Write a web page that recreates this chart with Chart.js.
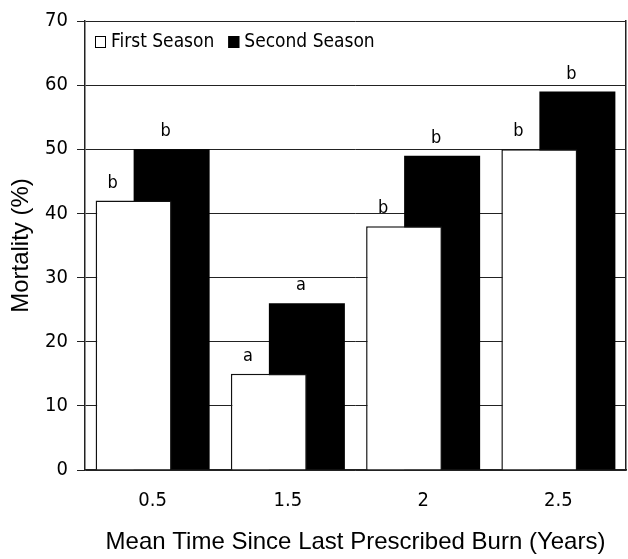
<!DOCTYPE html>
<html>
<head>
<meta charset="utf-8">
<script src="https://cdn.jsdelivr.net/npm/chart.js@4"></script>
<style>
  body { margin: 0; background: #fff; }
  #wrap { width: 628px; height: 559px; }
</style>
</head>
<body>
<div id="wrap"><canvas id="myChart"></canvas></div>
<script>
// data
var years = ['0.5', '1.5', '2', '2.5'];
var firstSeason = [42, 15, 38, 50];
var secondSeason = [50, 26, 49, 59];
var firstLetters = ['b', 'a', 'b', 'b'];
var secondLetters = ['b', 'a', 'b', 'b'];
var yTicks = [0, 10, 20, 30, 40, 50, 60, 70];

var narrow = "'Liberation Sans Narrow', 'DejaVu Sans Condensed', sans-serif";
var plain = "'Liberation Sans', Arial, sans-serif";

// letters over the bars (significance groups)
var letterPlugin = {
  id: 'letters',
  afterDatasetsDraw: function(chart) {
    var ctx = chart.ctx;
    var sets = [firstLetters, secondLetters];
    var shift = [-21, -6];
    ctx.save();
    ctx.fillStyle = '#000';
    ctx.font = '18px ' + narrow;
    ctx.textAlign = 'center';
    ctx.textBaseline = 'alphabetic';
    for (var d = 0; d < 2; d++) {
      var meta = chart.getDatasetMeta(d);
      meta.data.forEach(function(bar, i) {
        ctx.fillText(sets[d][i], bar.x + shift[d], bar.y - 13);
      });
    }
    ctx.restore();
  }
};

// legend sits inside the plot, in one row, top left
var legendPlugin = {
  id: 'innerLegend',
  afterDraw: function(chart) {
    var ctx = chart.ctx;
    var area = chart.chartArea;
    var x = area.left + 10;
    var y = area.top + 21;
    ctx.save();
    ctx.font = '19px ' + narrow;
    ctx.textBaseline = 'middle';
    ctx.textAlign = 'left';
    chart.data.datasets.forEach(function(ds) {
      ctx.fillStyle = ds.backgroundColor;
      ctx.fillRect(x, y - 6, 11, 12);
      ctx.strokeStyle = '#000';
      ctx.lineWidth = 1;
      ctx.strokeRect(x + 0.5, y - 5.5, 10, 11);
      ctx.fillStyle = '#000';
      ctx.fillText(ds.label, x + 16, y);
      x += 16 + ctx.measureText(ds.label).width + 14;
    });
    ctx.restore();
  }
};

var ctx = document.getElementById('myChart').getContext('2d');
var myChart = new Chart(ctx, {
  type: 'bar',
  data: {
    labels: years,
    datasets: [{
      label: 'First Season',
      data: firstSeason,
      backgroundColor: '#fff',
      borderColor: '#111',
      borderWidth: 1.5
    }, {
      label: 'Second Season',
      data: secondSeason,
      backgroundColor: '#000',
      borderColor: '#000',
      borderWidth: 0
    }]
  },
  options: {
    responsive: true,
    maintainAspectRatio: false,
    animation: false,
    categoryPercentage: 0.562,
    barPercentage: 2,
    layout: { padding: { top: 13, right: 0, left: 0, bottom: 0 } },
    plugins: {
      tooltip: { enabled: false },
      legend: { display: false }
    },
    scales: {
      x: {
        grid: { display: false, drawTicks: false },
        border: { display: true, color: '#222', width: 1.5 },
        ticks: { color: '#000', padding: 19, font: { size: 20, family: narrow } },
        title: {
          display: true,
          text: 'Mean Time Since Last Prescribed Burn (Years)',
          color: '#000',
          font: { size: 24, family: plain },
          padding: { top: 0, bottom: 2 }
        },
        afterFit: function(scale) { scale.height = 89; }
      },
      y: {
        min: 0,
        max: 70,
        afterBuildTicks: function(scale) {
          scale.ticks = yTicks.map(function(v) { return { value: v }; });
        },
        grid: { color: '#222', lineWidth: 1, tickLength: 8 },
        border: { display: true, color: '#222', width: 1.5 },
        ticks: { color: '#000', padding: 9, font: { size: 20, family: narrow } },
        title: {
          display: true,
          text: 'Mortality (%)',
          color: '#000',
          font: { size: 24, family: plain },
          padding: { top: 7, bottom: 0 }
        },
        afterFit: function(scale) { scale.width = 85; }
      },
      y2: {
        position: 'right',
        min: 0,
        max: 70,
        grid: { drawOnChartArea: false, drawTicks: false },
        border: { display: true, color: '#222', width: 1.5 },
        ticks: { display: false },
        afterFit: function(scale) { scale.width = 2; }
      }
    }
  },
  plugins: [letterPlugin, legendPlugin]
});
</script>
</body>
</html>
